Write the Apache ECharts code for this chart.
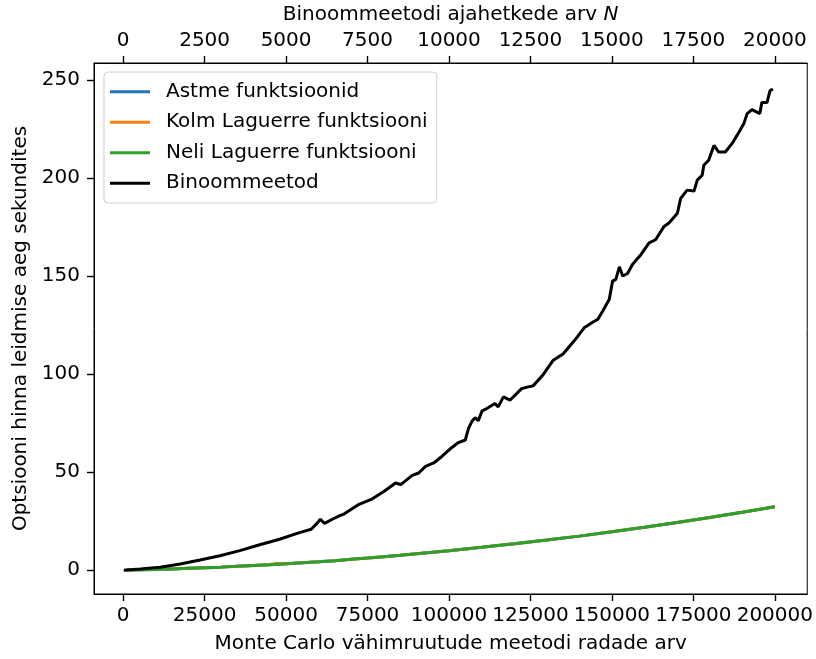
<!DOCTYPE html>
<html>
<head>
<meta charset="utf-8">
<script src="https://cdn.jsdelivr.net/npm/echarts@6/dist/echarts.min.js"></script>
<style>html,body{margin:0;padding:0;background:#fff}#c{width:816px;height:659px}</style>
</head>
<body>
<div id="c"></div>
<script>
// Monte Carlo path counts (bottom axis)
const mcPaths = [1000, 5000, 10000, 15000, 20000, 25000, 30000, 35000, 40000, 45000, 47000, 50000, 55000, 60000, 65000, 70000, 75000, 80000, 85000, 90000, 95000, 100000, 110000, 120000, 130000, 140000, 150000, 160000, 170000, 180000, 190000, 200000];
const astme   = [0.1, 0.2, 0.4, 0.7, 1.0, 1.3, 1.6, 2.0, 2.4, 2.8, 3.0, 3.3, 3.8, 4.3, 4.9, 5.6, 6.2, 6.9, 7.6, 8.4, 9.2, 10.0, 11.7, 13.5, 15.4, 17.4, 19.6, 21.9, 24.4, 26.9, 29.6, 32.4];
const kolm    = [0.1, 0.2, 0.4, 0.7, 1.0, 1.3, 1.6, 2.0, 2.4, 2.9, 3.5, 3.3, 3.8, 4.3, 4.9, 5.6, 6.2, 6.9, 7.6, 8.4, 9.2, 10.0, 11.7, 13.5, 15.4, 17.4, 19.6, 21.9, 24.4, 26.9, 29.6, 32.4];
const neli    = [0.1, 0.2, 0.4, 0.7, 1.0, 1.3, 1.6, 2.0, 2.4, 2.8, 3.1, 3.3, 3.8, 4.3, 4.9, 5.6, 6.2, 6.9, 7.6, 8.4, 9.2, 10.0, 11.7, 13.5, 15.4, 17.4, 19.6, 21.9, 24.4, 26.9, 29.6, 32.4];
// Binomial method time steps N (top axis) and times
const binomN = [20, 530, 1140, 1750, 2360, 2970, 3580, 4190, 4800, 5410, 5770, 5970, 6050, 6180, 6420, 6630, 6790, 7240, 7650, 8010, 8360, 8520, 8870, 9070, 9280, 9530, 9780, 10090, 10290, 10500, 10600, 10700, 10800, 10900, 11010, 11160, 11410, 11510, 11670, 11870, 12230, 12430, 12580, 12890, 13190, 13500, 13850, 14160, 14410, 14570, 14720, 14920, 15020, 15120, 15230, 15330, 15480, 15630, 15760, 15890, 16140, 16340, 16600, 16750, 17010, 17110, 17310, 17520, 17620, 17770, 17820, 17970, 18130, 18280, 18480, 18690, 18840, 19050, 19150, 19300, 19540, 19600, 19760, 19850, 19940];
const binomT = [0.05, 0.6, 1.5, 3.2, 5.2, 7.4, 10.0, 13.0, 15.8, 19.2, 20.9, 24.3, 26.0, 23.9, 26.0, 27.7, 28.8, 33.6, 36.4, 40.3, 44.5, 43.7, 48.4, 49.6, 53.0, 54.7, 58.0, 62.6, 65.1, 66.4, 72.4, 75.8, 77.8, 76.3, 81.1, 82.5, 85.0, 83.3, 88.4, 86.7, 92.6, 93.5, 94.0, 99.7, 106.9, 110.3, 117.1, 123.8, 126.4, 128.0, 132.2, 138.2, 147.4, 148.3, 154.7, 150.0, 151.3, 155.9, 158.4, 160.9, 166.9, 168.5, 175.3, 177.0, 182.0, 189.6, 193.8, 193.3, 198.9, 201.4, 206.5, 209.0, 216.6, 213.2, 213.2, 217.6, 221.7, 227.7, 232.8, 234.8, 232.8, 238.4, 238.4, 244.4, 245.4];
// tick labels
const bottomTicks = [0, 25000, 50000, 75000, 100000, 125000, 150000, 175000, 200000];
const topTicks = [0, 2500, 5000, 7500, 10000, 12500, 15000, 17500, 20000];
const yTicks = [0, 50, 100, 150, 200, 250];
const seriesNames = ['Astme funktsioonid', 'Kolm Laguerre funktsiooni', 'Neli Laguerre funktsiooni', 'Binoommeetod'];

const FONT = 'DejaVu Sans';
const FS = 20;
const pair = (xs, ys) => xs.map((x, i) => [x, ys[i]]);
const plain = v => String(v);
const axisCommon = {
  type: 'value',
  axisLine: { show: true, onZero: false, lineStyle: { color: '#000', width: 1 } },
  splitLine: { show: false },
  nameTextStyle: { fontFamily: FONT, fontSize: FS, color: '#000' }
};
const tickStyle = { color: '#000', width: 1.4 };
const chart = echarts.init(document.getElementById('c'), null, { renderer: 'canvas' });
chart.setOption({
  animation: false,
  backgroundColor: '#fff',
  textStyle: { fontFamily: FONT },
  grid: { left: 94, right: 8, top: 62, bottom: 61, show: true, borderColor: '#000', borderWidth: 1 },
  legend: {
    left: 104, top: 72, orient: 'vertical',
    data: seriesNames.map(n => ({ name: n, icon: 'rect' })),
    itemWidth: 40, itemHeight: 3, itemGap: 7,
    padding: [8, 9, 8, 6],
    borderColor: '#d0d0d0', borderWidth: 1, borderRadius: 4, backgroundColor: 'rgba(255,255,255,0.8)',
    textStyle: { fontFamily: FONT, fontSize: FS, color: '#000', lineHeight: 23.5, padding: [0, 0, 0, 11] }
  },
  xAxis: [
    Object.assign({}, axisCommon, {
      position: 'bottom', min: -8950, max: 209950,
      name: 'Monte Carlo vähimruutude meetodi radade arv', nameLocation: 'middle', nameGap: 40,
      axisTick: { show: true, inside: false, length: 7, lineStyle: tickStyle, customValues: bottomTicks },
      axisLabel: { fontFamily: FONT, fontSize: FS, color: '#000', margin: 12, hideOverlap: false, showMinLabel: true, showMaxLabel: true, formatter: plain, customValues: bottomTicks }
    }),
    Object.assign({}, axisCommon, {
      position: 'top', min: -895, max: 20995,
      name: '{a|Binoommeetodi ajahetkede arv }{b|N}', nameLocation: 'middle', nameGap: 38,
      nameTextStyle: { fontFamily: FONT, fontSize: FS, color: '#000', rich: { a: { fontFamily: FONT, fontSize: FS, color: '#000' }, b: { fontFamily: FONT, fontSize: FS, color: '#000', fontStyle: 'italic' } } },
      axisTick: { show: true, inside: false, length: 7, lineStyle: tickStyle, customValues: topTicks },
      axisLabel: { fontFamily: FONT, fontSize: FS, color: '#000', margin: 12, hideOverlap: false, formatter: plain, customValues: topTicks }
    })
  ],
  yAxis: Object.assign({}, axisCommon, {
    min: -12.1, max: 258.6,
    name: 'Optsiooni hinna leidmise aeg sekundites', nameLocation: 'middle', nameGap: 62, nameRotate: 90,
    axisTick: { show: true, inside: false, length: 7, lineStyle: tickStyle, customValues: yTicks },
    axisLabel: { fontFamily: FONT, fontSize: FS, color: '#000', margin: 14, formatter: plain, customValues: yTicks }
  }),
  series: [
    { name: seriesNames[0], type: 'line', xAxisIndex: 0, data: pair(mcPaths, astme), showSymbol: false, lineStyle: { color: '#1f77b4', width: 3 }, itemStyle: { color: '#1f77b4' } },
    { name: seriesNames[1], type: 'line', xAxisIndex: 0, data: pair(mcPaths, kolm), showSymbol: false, lineStyle: { color: '#ff7f0e', width: 3 }, itemStyle: { color: '#ff7f0e' } },
    { name: seriesNames[2], type: 'line', xAxisIndex: 0, data: pair(mcPaths, neli), showSymbol: false, lineStyle: { color: '#2ca02c', width: 3 }, itemStyle: { color: '#2ca02c' } },
    { name: seriesNames[3], type: 'line', xAxisIndex: 1, data: pair(binomN, binomT), showSymbol: false, lineStyle: { color: '#000', width: 3 }, itemStyle: { color: '#000' } }
  ]
});
</script>
</body>
</html>
